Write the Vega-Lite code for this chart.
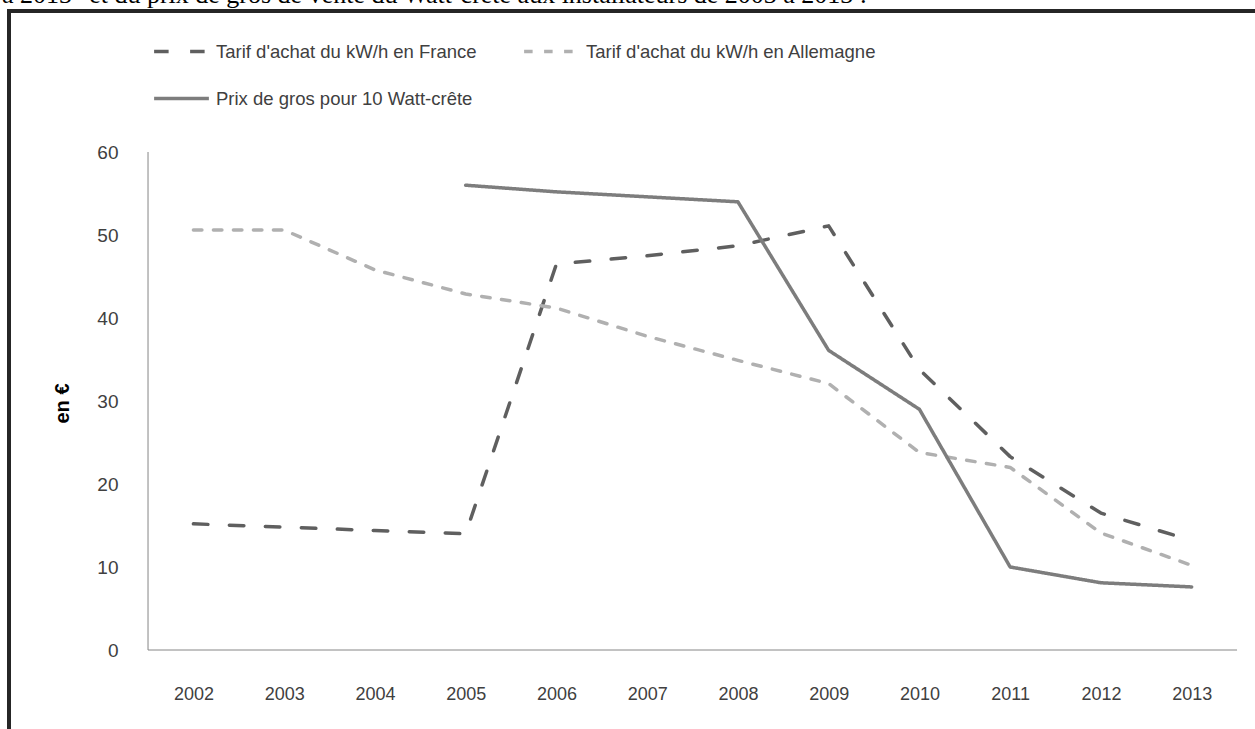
{
  "$schema": "https://vega.github.io/schema/vega-lite/v6.json",
  "autosize": {"type": "none"},
  "width": 1249,
  "height": 722,
  "padding": {"left": 9, "top": 11, "right": 0, "bottom": 0},
  "background": "white",
  "title": {
    "text": "à 2013\" et du prix de gros de vente du Watt-crête aux installateurs de 2003 à 2013 :",
    "anchor": "start",
    "orient": "top",
    "frame": "group",
    "font": "Liberation Serif",
    "fontSize": 26,
    "fontWeight": "normal",
    "color": "#000000",
    "baseline": "alphabetic",
    "offset": 0,
    "dx": -7,
    "dy": 18
  },
  "config": {
    "view": {"stroke": "#262626", "strokeWidth": 4},
    "legend": {
      "orient": "none",
      "legendX": 143,
      "legendY": 11,
      "direction": "horizontal",
      "columns": 2,
      "symbolType": "stroke",
      "symbolSize": 3000,
      "symbolStrokeWidth": 3.5,
      "labelFont": "Liberation Sans",
      "labelFontSize": 18.5,
      "labelColor": "#404040",
      "labelLimit": 0,
      "labelOffset": 5,
      "columnPadding": 40,
      "rowPadding": 8,
      "padding": 0,
      "title": null
    }
  },
  "datasets": {
    "series": [
      {"annee": 2002, "serie": "Tarif d'achat du kW/h en France", "valeur": 15.2},
      {"annee": 2003, "serie": "Tarif d'achat du kW/h en France", "valeur": 14.8},
      {"annee": 2004, "serie": "Tarif d'achat du kW/h en France", "valeur": 14.4},
      {"annee": 2005, "serie": "Tarif d'achat du kW/h en France", "valeur": 14.0},
      {"annee": 2006, "serie": "Tarif d'achat du kW/h en France", "valeur": 46.5},
      {"annee": 2007, "serie": "Tarif d'achat du kW/h en France", "valeur": 47.5},
      {"annee": 2008, "serie": "Tarif d'achat du kW/h en France", "valeur": 48.7},
      {"annee": 2009, "serie": "Tarif d'achat du kW/h en France", "valeur": 51.1},
      {"annee": 2010, "serie": "Tarif d'achat du kW/h en France", "valeur": 33.8},
      {"annee": 2011, "serie": "Tarif d'achat du kW/h en France", "valeur": 23.3},
      {"annee": 2012, "serie": "Tarif d'achat du kW/h en France", "valeur": 16.5},
      {"annee": 2013, "serie": "Tarif d'achat du kW/h en France", "valeur": 13.2},
      {"annee": 2002, "serie": "Tarif d'achat du kW/h en Allemagne", "valeur": 50.6},
      {"annee": 2003, "serie": "Tarif d'achat du kW/h en Allemagne", "valeur": 50.6},
      {"annee": 2004, "serie": "Tarif d'achat du kW/h en Allemagne", "valeur": 45.8},
      {"annee": 2005, "serie": "Tarif d'achat du kW/h en Allemagne", "valeur": 42.9},
      {"annee": 2006, "serie": "Tarif d'achat du kW/h en Allemagne", "valeur": 41.2},
      {"annee": 2007, "serie": "Tarif d'achat du kW/h en Allemagne", "valeur": 37.8},
      {"annee": 2008, "serie": "Tarif d'achat du kW/h en Allemagne", "valeur": 34.9},
      {"annee": 2009, "serie": "Tarif d'achat du kW/h en Allemagne", "valeur": 32.1},
      {"annee": 2010, "serie": "Tarif d'achat du kW/h en Allemagne", "valeur": 23.8},
      {"annee": 2011, "serie": "Tarif d'achat du kW/h en Allemagne", "valeur": 22.0},
      {"annee": 2012, "serie": "Tarif d'achat du kW/h en Allemagne", "valeur": 14.1},
      {"annee": 2013, "serie": "Tarif d'achat du kW/h en Allemagne", "valeur": 10.2},
      {"annee": 2005, "serie": "Prix de gros pour 10 Watt-crête", "valeur": 56.0},
      {"annee": 2006, "serie": "Prix de gros pour 10 Watt-crête", "valeur": 55.2},
      {"annee": 2007, "serie": "Prix de gros pour 10 Watt-crête", "valeur": 54.6},
      {"annee": 2008, "serie": "Prix de gros pour 10 Watt-crête", "valeur": 54.0},
      {"annee": 2009, "serie": "Prix de gros pour 10 Watt-crête", "valeur": 36.1},
      {"annee": 2010, "serie": "Prix de gros pour 10 Watt-crête", "valeur": 29.0},
      {"annee": 2011, "serie": "Prix de gros pour 10 Watt-crête", "valeur": 10.0},
      {"annee": 2012, "serie": "Prix de gros pour 10 Watt-crête", "valeur": 8.1},
      {"annee": 2013, "serie": "Prix de gros pour 10 Watt-crête", "valeur": 7.6}
    ]
  },
  "layer": [
    {
      "data": {"name": "series"},
      "mark": {"type": "line", "strokeWidth": 3.5, "strokeCap": "round", "strokeJoin": "round"},
      "encoding": {
        "x": {
          "field": "annee", "type": "quantitative",
          "scale": {"domain": [1999.968, 2013.731], "nice": false, "zero": false},
          "axis": {
            "values": [2002, 2003, 2004, 2005, 2006, 2007, 2008, 2009, 2010, 2011, 2012, 2013],
            "format": "d", "domain": false, "ticks": false, "grid": false,
            "offset": -83, "labelPadding": 35, "labelFlush": false,
            "labelFont": "Liberation Sans", "labelFontSize": 18, "labelColor": "#404040",
            "title": null
          }
        },
        "y": {
          "field": "valeur", "type": "quantitative",
          "scale": {"domain": [-10, 76.99], "nice": false, "zero": false},
          "axis": {
            "values": [0, 10, 20, 30, 40, 50, 60],
            "domain": false, "ticks": false, "grid": false,
            "offset": -139, "labelPadding": 30,
            "labelFont": "Liberation Sans", "labelFontSize": 19, "labelColor": "#404040",
            "title": "en €", "titleFont": "Liberation Sans", "titleFontSize": 20, "titleFontWeight": "bold", "titleColor": "#000000", "titlePadding": 24, "titleY": 392
          }
        },
        "color": {
          "field": "serie", "type": "nominal",
          "scale": {"domain": ["Tarif d'achat du kW/h en France", "Tarif d'achat du kW/h en Allemagne", "Prix de gros pour 10 Watt-crête"], "range": ["#5f5f5f", "#b0b0b0", "#7d7d7d"]}
        },
        "strokeDash": {
          "field": "serie", "type": "nominal",
          "scale": {"domain": ["Tarif d'achat du kW/h en France", "Tarif d'achat du kW/h en Allemagne", "Prix de gros pour 10 Watt-crête"], "range": [[14.5, 21.5], [8.5, 11.5], [1, 0]]}
        }
      }
    },
    {
      "data": {"values": [{"x0": 2001.5, "x1": 2013.5, "y0": 0, "y1": 0}, {"x0": 2001.5, "x1": 2001.5, "y0": 0, "y1": 60}]},
      "mark": {"type": "rule", "color": "#868686", "strokeWidth": 1},
      "encoding": {
        "x": {
          "field": "x0", "type": "quantitative",
          "scale": {"domain": [1999.968, 2013.731], "nice": false, "zero": false},
          "axis": {
            "values": [2002, 2003, 2004, 2005, 2006, 2007, 2008, 2009, 2010, 2011, 2012, 2013],
            "format": "d", "domain": false, "ticks": false, "grid": false,
            "offset": -83, "labelPadding": 35, "labelFlush": false,
            "labelFont": "Liberation Sans", "labelFontSize": 18, "labelColor": "#404040",
            "title": null
          }
        },
        "x2": {"field": "x1"},
        "y": {
          "field": "y0", "type": "quantitative",
          "scale": {"domain": [-10, 76.99], "nice": false, "zero": false},
          "axis": {
            "values": [0, 10, 20, 30, 40, 50, 60],
            "domain": false, "ticks": false, "grid": false,
            "offset": -139, "labelPadding": 30,
            "labelFont": "Liberation Sans", "labelFontSize": 19, "labelColor": "#404040",
            "title": "en €", "titleFont": "Liberation Sans", "titleFontSize": 20, "titleFontWeight": "bold", "titleColor": "#000000", "titlePadding": 24, "titleY": 392
          }
        },
        "y2": {"field": "y1"}
      }
    }
  ]
}
